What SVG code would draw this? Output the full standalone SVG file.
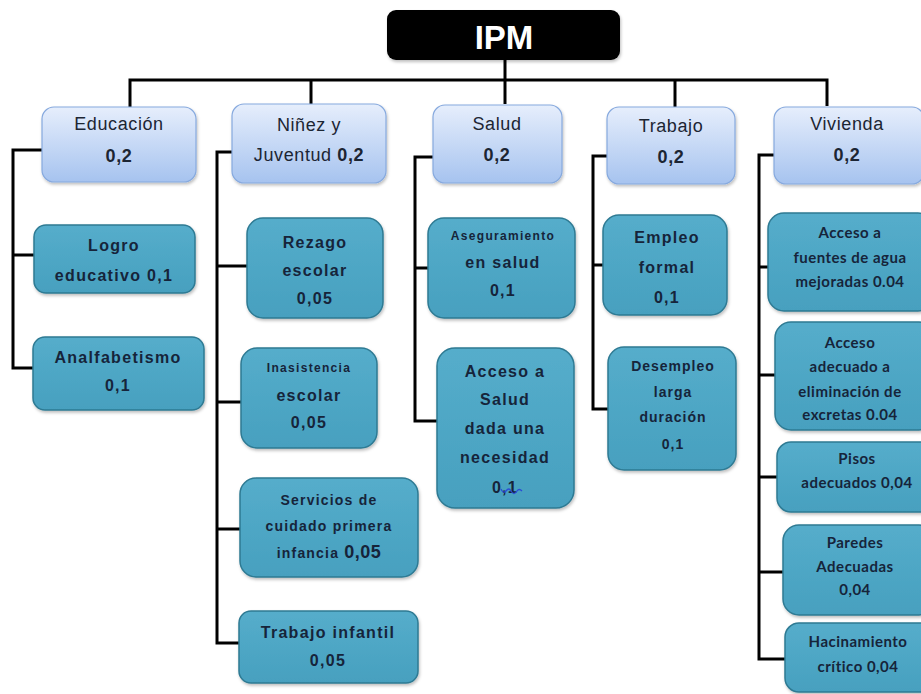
<svg xmlns="http://www.w3.org/2000/svg" width="921" height="694" viewBox="0 0 921 694">
<defs>
<linearGradient id="gCat" x1="0" y1="0" x2="0" y2="1">
<stop offset="0" stop-color="#e6eefc"/>
<stop offset="1" stop-color="#a6c3ef"/>
</linearGradient>
<linearGradient id="gSub" x1="0" y1="0" x2="0" y2="1">
<stop offset="0" stop-color="#55adcb"/>
<stop offset="1" stop-color="#47a0bf"/>
</linearGradient>
<filter id="sh" x="-10%" y="-10%" width="130%" height="130%">
<feDropShadow dx="1" dy="2" stdDeviation="1.5" flood-color="#000" flood-opacity="0.25"/>
</filter>
</defs>
<style>
.cat{fill:url(#gCat);stroke:#86a9de;stroke-width:1.2;filter:url(#sh)}
.sub{fill:url(#gSub);stroke:#2e7a93;stroke-width:1.5;filter:url(#sh)}
.ct{font-family:"Liberation Sans",Arial,sans-serif;font-size:18px;letter-spacing:0.6px;fill:#1c2533;text-anchor:middle}
.cb{font-weight:bold}
.st{font-family:"Liberation Sans",Arial,sans-serif;font-size:16px;letter-spacing:1.3px;font-weight:bold;fill:#16243a;text-anchor:middle}
.sm{font-size:12px;letter-spacing:1.3px}
.s13{font-size:14px;letter-spacing:1px}
.s14{font-size:14px;letter-spacing:1.2px}
.vt{font-family:Lato,"Open Sans",sans-serif;font-size:15px;letter-spacing:0.5px;font-weight:bold;fill:#16243a;text-anchor:middle}
.ln{fill:none;stroke:#000;stroke-width:3}
</style>
<rect width="921" height="694" fill="#fff"/>
<g id="connectors">
<path class="ln" d="M130,108 V80 H827 V106"/>
<path class="ln" d="M505,60 V104"/>
<path class="ln" d="M311,80 V104"/>
<path class="ln" d="M675,80 V107"/>
<path class="ln" d="M42,150 H13 V368 H33 M13,255 H34"/>
<path class="ln" d="M232,152 H217 V643 H239 M217,266 H247 M217,402 H241 M217,529 H240"/>
<path class="ln" d="M433,157 H415 V421 H437 M415,268 H428"/>
<path class="ln" d="M607,156 H593 V409 H608 M593,265 H603"/>
<path class="ln" d="M774,155 H759 V659 H785 M759,267 H768 M759,375 H775 M759,477 H777 M759,572 H783"/>
</g>
<g id="ipm">
<rect x="387" y="10" width="233" height="50" rx="9" fill="#050505" filter="url(#sh)"/>
<text x="504" y="49" font-family="Liberation Sans,Arial,sans-serif" font-size="33" font-weight="bold" fill="#fff" text-anchor="middle">IPM</text>
</g>
<g id="educacion">
<rect class="cat" x="42" y="107" width="154" height="75" rx="12"/>
<text class="ct" x="119" y="130">Educación</text>
<text class="ct cb" x="119" y="162">0,2</text>
</g>
<g id="ninez">
<rect class="cat" x="232" y="104" width="154" height="79" rx="12"/>
<text class="ct" x="309" y="131">Niñez y</text>
<text class="ct" x="309" y="161">Juventud <tspan class="cb">0,2</tspan></text>
</g>
<g id="salud">
<rect class="cat" x="433" y="105" width="129" height="78" rx="12"/>
<text class="ct" x="497" y="130">Salud</text>
<text class="ct cb" x="497" y="161">0,2</text>
</g>
<g id="trabajo">
<rect class="cat" x="607" y="107" width="128" height="77" rx="12"/>
<text class="ct" x="671" y="132">Trabajo</text>
<text class="ct cb" x="671" y="163">0,2</text>
</g>
<g id="vivienda">
<rect class="cat" x="774" y="107" width="150" height="77" rx="12"/>
<text class="ct" x="847" y="130">Vivienda</text>
<text class="ct cb" x="847" y="161">0,2</text>
</g>
<g id="logro">
<rect class="sub" x="34" y="225" width="161" height="68" rx="12"/>
<text class="st" x="114" y="251">Logro</text>
<text class="st" x="114" y="281">educativo 0,1</text>
</g>
<g id="analfabetismo">
<rect class="sub" x="33" y="337" width="171" height="73" rx="12"/>
<text class="st" x="118" y="363">Analfabetismo</text>
<text class="st" x="118" y="391">0,1</text>
</g>
<g id="rezago">
<rect class="sub" x="247" y="218" width="136" height="100" rx="16"/>
<text class="st" x="315" y="248">Rezago</text>
<text class="st" x="315" y="276">escolar</text>
<text class="st" x="315" y="304">0,05</text>
</g>
<g id="inasistencia">
<rect class="sub" x="241" y="348" width="136" height="100" rx="16"/>
<text class="st sm" x="309" y="372">Inasistencia</text>
<text class="st" x="309" y="401">escolar</text>
<text class="st" x="309" y="428">0,05</text>
</g>
<g id="servicios">
<rect class="sub" x="240" y="478" width="178" height="99" rx="16"/>
<text class="st s14" x="329" y="505">Servicios de</text>
<text class="st s14" x="329" y="531">cuidado primera</text>
<text class="st s14" x="329" y="558">infancia <tspan style="font-size:18px;letter-spacing:0.5px">0,05</tspan></text>
</g>
<g id="trabajo-infantil">
<rect class="sub" x="239" y="611" width="179" height="72" rx="12"/>
<text class="st" x="328" y="638">Trabajo infantil</text>
<text class="st" x="328" y="666">0,05</text>
</g>
<g id="aseguramiento">
<rect class="sub" x="428" y="218" width="147" height="100" rx="16"/>
<text class="st sm" x="503" y="240">Aseguramiento</text>
<text class="st" x="503" y="268">en salud</text>
<text class="st" x="503" y="296">0,1</text>
</g>
<g id="acceso-salud">
<rect class="sub" x="437" y="348" width="137" height="160" rx="18"/>
<text class="st" x="505" y="377">Acceso a</text>
<text class="st" x="505" y="405">Salud</text>
<text class="st" x="505" y="434">dada una</text>
<text class="st" x="505" y="463">necesidad</text>
<text class="st" x="505" y="493">0,1</text>
<path d="M501,489 q2,5 5,2 q3,-4 5,0 q3,5 6,0 q2,-3 5,0" fill="none" stroke="#2b4bd6" stroke-width="1.3"/>
</g>
<g id="empleo">
<rect class="sub" x="603" y="215" width="124" height="100" rx="16"/>
<text class="st" x="667" y="243">Empleo</text>
<text class="st" x="667" y="273">formal</text>
<text class="st" x="667" y="303">0,1</text>
</g>
<g id="desempleo">
<rect class="sub" x="608" y="347" width="128" height="123" rx="16"/>
<text class="st s13" x="673" y="371">Desempleo</text>
<text class="st s13" x="673" y="397">larga</text>
<text class="st s13" x="673" y="422">duración</text>
<text class="st s13" x="673" y="449">0,1</text>
</g>
<g id="agua">
<rect class="sub" x="768" y="213" width="166" height="98" rx="16"/>
<text class="vt" x="850" y="238">Acceso a</text>
<text class="vt" x="850" y="263">fuentes de agua</text>
<text class="vt" x="850" y="287">mejoradas 0.04</text>
</g>
<g id="excretas">
<rect class="sub" x="775" y="322" width="160" height="108" rx="16"/>
<text class="vt" x="850" y="348">Acceso</text>
<text class="vt" x="850" y="372">adecuado a</text>
<text class="vt" x="850" y="397">eliminación de</text>
<text class="vt" x="850" y="420">excretas 0.04</text>
</g>
<g id="pisos">
<rect class="sub" x="777" y="442" width="158" height="70" rx="14"/>
<text class="vt" x="857" y="464">Pisos</text>
<text class="vt" x="857" y="488">adecuados 0,04</text>
</g>
<g id="paredes">
<rect class="sub" x="783" y="525" width="152" height="90" rx="16"/>
<text class="vt" x="855" y="548">Paredes</text>
<text class="vt" x="855" y="572">Adecuadas</text>
<text class="vt" x="855" y="595">0,04</text>
</g>
<g id="hacinamiento">
<rect class="sub" x="785" y="623" width="150" height="69" rx="14"/>
<text class="vt" x="858" y="647">Hacinamiento</text>
<text class="vt" x="858" y="672">crítico 0,04</text>
</g>
</svg>
